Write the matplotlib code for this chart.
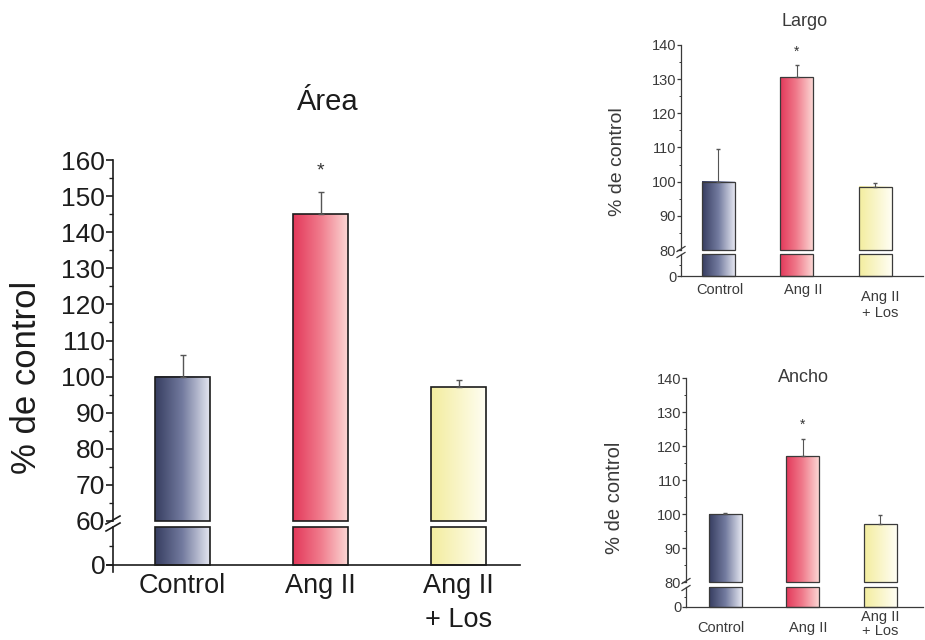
import numpy as np
import matplotlib
matplotlib.use("Agg")
import matplotlib.pyplot as plt
from matplotlib.colors import LinearSegmentedColormap
from matplotlib.lines import Line2D

plt.rcParams['font.family'] = ['Liberation Sans', 'DejaVu Sans']

# data (% of control, mean and upper error)
groups = ["Control", "Ang II", "Ang II\n+ Los"]
area_vals = [100, 145, 97]
area_err = [6, 6, 2]
largo_vals = [100, 130.5, 98.5]
largo_err = [9.5, 3.5, 1.2]
ancho_vals = [100, 117, 97]
ancho_err = [0.4, 5, 2.8]
stars = ["", "*", ""]

bar_colors = [["#363d60", "#737b9f", "#e4e6f1"],
              ["#e3385a", "#f07b8c", "#fbd6d3"],
              ["#f3ed9e", "#f9f5c8", "#fffef4"]]
cmaps = [LinearSegmentedColormap.from_list("c%d" % i, c) for i, c in enumerate(bar_colors)]

W, H = 925, 640
fig = plt.figure(figsize=(W / 100, H / 100), dpi=100)
fig.patch.set_facecolor("white")


def px_axes(x0, x1, ytop, ybot):
    return fig.add_axes([x0 / W, 1 - ybot / H, (x1 - x0) / W, (ybot - ytop) / H])


def fig_line(xs, ys, color, lw):
    fig.add_artist(Line2D([x / W for x in xs], [1 - y / H for y in ys], color=color, lw=lw))


def grad_bar(ax, x, y0, y1, w, cmap, ec, lw):
    g = np.linspace(0, 1, 256).reshape(1, -1)
    ax.imshow(g, extent=[x - w / 2, x + w / 2, y0, y1], aspect="auto", cmap=cmap,
              origin="lower", interpolation="bicubic", zorder=1)
    ax.bar(x, y1 - y0, bottom=y0, width=w, facecolor="none", edgecolor=ec,
           lw=lw, zorder=2, clip_on=False)


def panel(vals, errs, box, yrange, centers, fs, lab_off, col):
    x0, x1, ytop, yb1, yb2, ybase = box
    ylo, yhi = yrange
    first, spacing, barpx = centers
    left = -(first - x0) / spacing
    right = left + (x1 - x0) / spacing
    w = barpx / spacing
    idx = np.arange(len(vals))

    ax_u = px_axes(x0, x1, ytop, yb1)
    ax_l = px_axes(x0, x1, yb2, ybase)
    for i, v in enumerate(vals):
        grad_bar(ax_u, i, ylo, v, w, cmaps[i], col, fs["lw"])
        grad_bar(ax_l, i, 0, min(v, 10), w, cmaps[i], col, fs["lw"])
    ax_u.errorbar(idx, vals, yerr=[np.zeros(len(vals)), errs], fmt="none",
                  ecolor="#555555", elinewidth=fs["elw"], capsize=fs["cap"], zorder=3)
    for i, s in enumerate(stars):
        if s:
            ax_u.annotate(s, xy=(i, vals[i] + errs[i]), xytext=(0, fs["star_off"]),
                          textcoords="offset points", ha="center", va="bottom",
                          fontsize=fs["star"], color="#333333", annotation_clip=False)

    for ax in (ax_u, ax_l):
        ax.set_xlim(left, right)
        ax.set_facecolor("none")
        for s in ("top", "right"):
            ax.spines[s].set_visible(False)
        ax.spines["left"].set_color(col)
        ax.spines["left"].set_linewidth(fs["lw"])
        ax.tick_params(axis="y", direction="out", length=fs["tick"], width=fs["lw"],
                       colors=col, labelsize=fs["ticklab"], pad=fs["pad"])
        ax.tick_params(axis="y", which="minor", length=fs["tick"] * 0.55, width=fs["lw"] * 0.8,
                       colors=col)
        ax.set_xticks([])
    ax_u.spines["bottom"].set_visible(False)
    ax_u.set_ylim(ylo, yhi)
    ax_u.set_yticks(np.arange(ylo, yhi + 1, 10))
    ax_u.set_yticks(np.arange(ylo + 5, yhi, 10), minor=True)
    ax_l.set_ylim(0, 10)
    ax_l.set_yticks([0])
    ax_l.set_yticks([5], minor=True)
    ax_l.spines["bottom"].set_color(col)
    ax_l.spines["bottom"].set_linewidth(fs["lw"])

    for i, g in enumerate(groups):
        dx, dy, ls = lab_off[i]
        ax_l.annotate(g, xy=(i, 0), xycoords=ax_l.get_xaxis_transform(),
                      xytext=(dx, -dy), textcoords="offset points", ha="center", va="top",
                      fontsize=fs["xlab"], linespacing=ls, color=col)
    return ax_u, ax_l


# big panel: Área
big = dict(lw=1.2, elw=1.0, cap=2.5, tick=5, ticklab=19, pad=0.5, xlab=19.5,
           star=14, star_off=9.5)
panel(area_vals, area_err, (113, 520, 160, 521, 527, 565), (60, 160),
      (182.5, 138, 55), big, [(0, 6, 1.2), (0, 6, 1.2), (0, 6, 1.4)], "#1c1c1c")
fig_line([107, 113], [565, 565], "#1c1c1c", 1.2)
fig_line([113, 113], [565, 572], "#1c1c1c", 1.2)
for y in (520, 527):
    fig_line([106, 120], [y + 4, y - 4], "#1c1c1c", 1.2)
fig.text(27 / W, 1 - 377 / H, "% de control", rotation=90, ha="center", va="center",
         fontsize=25, color="#1c1c1c")
fig.text(328 / W, 1 - 102 / H, "Área", ha="center", va="center", fontsize=21, color="#1c1c1c")

# small panels: Largo and Ancho
small = dict(lw=0.9, elw=0.8, cap=1.5, tick=3, ticklab=10.5, pad=0.5, xlab=10.5,
             star=10, star_off=5)
panel(largo_vals, largo_err, (681, 923, 45, 250, 254, 276), (80, 140),
      (718, 78.5, 33), small, [(1, 5, 1.2), (5, 5, 1.2), (4, 10, 1.15)], "#3a3a3a")
for y in (249, 255):
    fig_line([677, 685], [y + 2.5, y - 2.5], "#3a3a3a", 0.9)
fig.text(618 / W, 1 - 162 / H, "% de control", rotation=90, ha="center", va="center",
         fontsize=14, color="#3a3a3a")
fig.text(805 / W, 1 - 22 / H, "Largo", ha="center", va="center", fontsize=13, color="#3a3a3a")

panel(ancho_vals, ancho_err, (686, 923, 378, 582, 587, 607), (80, 140),
      (725, 77.5, 33), small, [(-3, 10, 1.2), (4, 10, 1.2), (0, 2, 1.05)], "#3a3a3a")
for y in (581, 588):
    fig_line([682, 690], [y + 2.5, y - 2.5], "#3a3a3a", 0.9)
fig.text(615 / W, 1 - 498 / H, "% de control", rotation=90, ha="center", va="center",
         fontsize=14.5, color="#3a3a3a")
fig.text(803 / W, 1 - 377 / H, "Ancho", ha="center", va="center", fontsize=13, color="#3a3a3a")

fig.savefig("out.png", dpi=100)
